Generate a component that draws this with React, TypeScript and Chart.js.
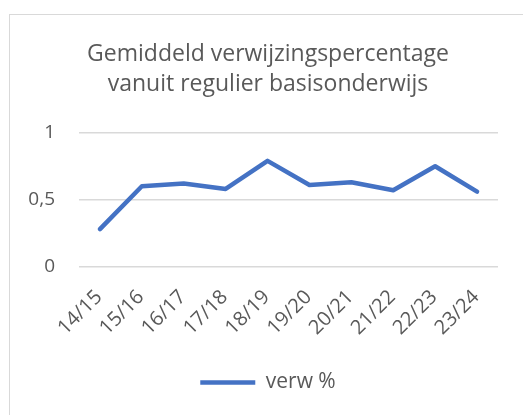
import React, { useEffect, useRef } from "react";
import { Chart, registerables } from "chart.js";

Chart.register(...registerables);

const titleLines = ["Gemiddeld verwijzingspercentage", "vanuit regulier basisonderwijs"];
const categories = ["14/15", "15/16", "16/17", "17/18", "18/19", "19/20", "20/21", "21/22", "22/23", "23/24"];
const seriesName = "verw %";
const values = [0.28, 0.6, 0.62, 0.58, 0.79, 0.61, 0.63, 0.57, 0.75, 0.56];
const yTicks = [0, 0.5, 1];

const FONT = "'Open Sans', sans-serif";
const TEXT = "#595959";
const GRID = "#d9d9d9";
const BLUE = "#4472C4";

export default function App() {
  const ref = useRef<HTMLCanvasElement | null>(null);

  useEffect(() => {
    if (!ref.current) return;
    const chart = new Chart(ref.current, {
      type: "line",
      data: {
        labels: categories,
        datasets: [
          {
            label: seriesName,
            data: values,
            borderColor: BLUE,
            backgroundColor: BLUE,
            borderWidth: 4.5,
            borderCapStyle: "round",
            borderJoinStyle: "round",
            pointRadius: 0,
            tension: 0,
          },
        ],
      },
      options: {
        responsive: false,
        animation: false,
        devicePixelRatio: 1,
        layout: { padding: { left: 0, right: 0, top: 0, bottom: 12 } },
        plugins: {
          title: {
            display: true,
            text: titleLines,
            color: TEXT,
            font: { family: FONT, size: 23, weight: "normal", lineHeight: 1.3 },
            padding: { top: 26, bottom: 33 },
          },
          legend: {
            display: true,
            position: "bottom",
            labels: {
              usePointStyle: true,
              pointStyle: "line",
              pointStyleWidth: 55,
              color: TEXT,
              font: { family: FONT, size: 21 },
              padding: 9,
            },
          },
          tooltip: { enabled: false },
        },
        scales: {
          y: {
            min: 0,
            max: 1,
            afterBuildTicks: (scale: any) => {
              scale.ticks = yTicks.map((v) => ({ value: v }));
            },
            afterFit: (scale: any) => {
              scale.width = 70;
            },
            ticks: {
              color: TEXT,
              font: { family: FONT, size: 19 },
              padding: 24,
              callback: (v: any) => String(v).replace(".", ","),
            },
            grid: { color: GRID, lineWidth: 1.5, drawTicks: false },
            border: { display: false },
          },
          yRight: {
            position: "right",
            min: 0,
            max: 1,
            afterFit: (scale: any) => {
              scale.width = 29;
            },
            ticks: { display: false },
            grid: { display: false, drawTicks: false },
            border: { display: false },
          },
          x: {
            offset: true,
            afterFit: (scale: any) => {
              scale.height = 96.5;
            },
            ticks: {
              color: TEXT,
              font: { family: FONT, size: 20 },
              minRotation: 45,
              maxRotation: 45,
              padding: 19,
              labelOffset: -1,
              autoSkip: false,
            },
            grid: { display: false, drawTicks: false },
            border: { display: false },
          },
        },
      },
    });
    return () => chart.destroy();
  }, []);

  return (
    <div
      style={{
        position: "fixed",
        left: 0,
        top: 0,
        width: 523,
        height: 415,
        overflow: "hidden",
        background: "#fff",
      }}
    >
      <div
        style={{
          position: "absolute",
          left: 9,
          top: 14,
          width: 540,
          height: 440,
          border: "1.5px solid #d9d9d9",
          boxSizing: "border-box",
        }}
      />
      <canvas
        ref={ref}
        width={518}
        height={401}
        style={{ position: "absolute", left: 9, top: 14, width: 518, height: 401 }}
      />
    </div>
  );
}
